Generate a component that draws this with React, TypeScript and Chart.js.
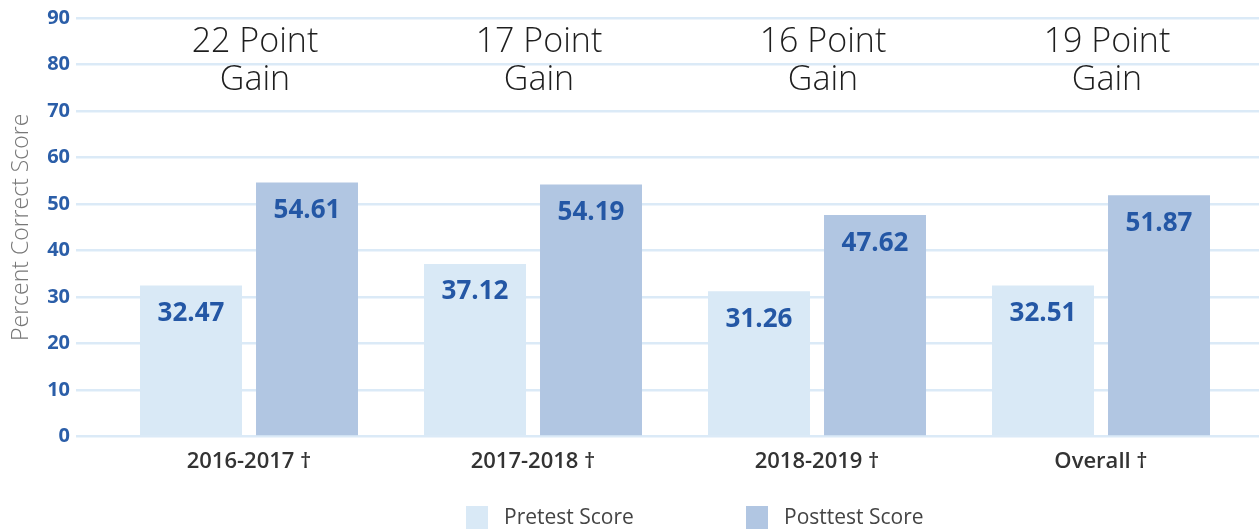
import React, { useEffect, useRef } from "react";
import { Chart, registerables } from "chart.js";

Chart.register(...registerables);

const categories = ["2016-2017 †", "2017-2018 †", "2018-2019 †", "Overall †"];
const pretestScores = [32.47, 37.12, 31.26, 32.51];
const posttestScores = [54.61, 54.19, 47.62, 51.87];
const gainLines = [
  ["22 Point", "Gain"],
  ["17 Point", "Gain"],
  ["16 Point", "Gain"],
  ["19 Point", "Gain"],
];
const seriesNames = ["Pretest Score", "Posttest Score"];
const yMin = 0;
const yMax = 90;
const yStep = 10;
const yTitle = "Percent Correct Score";

const FONT = '"Open Sans", "Noto Sans", sans-serif';
const PRE_COLOR = "#d9e9f6";
const POST_COLOR = "#b1c6e2";
const GRID_COLOR = "#dbeaf7";
const BLUE_TEXT = "#2457a5";

const valueLabelPlugin = {
  id: "valueLabels",
  afterDatasetsDraw(chart: any) {
    const ctx = chart.ctx;
    ctx.save();
    ctx.font = `bold 26px ${FONT}`;
    ctx.fillStyle = BLUE_TEXT;
    ctx.textAlign = "center";
    ctx.textBaseline = "middle";
    chart.data.datasets.forEach((ds: any, di: number) => {
      const meta = chart.getDatasetMeta(di);
      meta.data.forEach((el: any, i: number) => {
        const v = ds.data[i] as number;
        ctx.fillText(v.toFixed(2), el.x, el.y + 28);
      });
    });
    ctx.restore();
  },
};

const gainPlugin = {
  id: "gainLabels",
  afterDraw(chart: any) {
    const ctx = chart.ctx;
    const xs = chart.scales.x;
    ctx.save();
    ctx.font = `300 34px ${FONT}`;
    ctx.fillStyle = "#1e1e1e";
    ctx.textAlign = "center";
    ctx.textBaseline = "middle";
    gainLines.forEach((lines, i) => {
      const x = xs.getPixelForValue(i) + 6;
      lines.forEach((t, li) => ctx.fillText(t, x, 42 + li * 38));
    });
    ctx.restore();
  },
};

const legendPlugin = {
  id: "customLegend",
  afterDraw(chart: any) {
    const ctx = chart.ctx;
    const starts = [466, 746];
    ctx.save();
    ctx.font = `21px ${FONT}`;
    ctx.textBaseline = "middle";
    ctx.textAlign = "left";
    chart.data.datasets.forEach((ds: any, i: number) => {
      const x = starts[i];
      ctx.fillStyle = ds.backgroundColor;
      ctx.fillRect(x, 506, 22, 23);
      ctx.fillStyle = "#444444";
      ctx.fillText(ds.label, x + 38, 518);
    });
    ctx.restore();
  },
};

export default function App() {
  const ref = useRef<HTMLCanvasElement | null>(null);

  useEffect(() => {
    document.body.style.margin = "0";
    if (!ref.current) return;
    const chart = new Chart(ref.current, {
      type: "bar",
      data: {
        labels: categories,
        datasets: [
          {
            label: seriesNames[0],
            data: pretestScores,
            backgroundColor: PRE_COLOR,
            categoryPercentage: 0.817,
            barPercentage: 0.879,
          },
          {
            label: seriesNames[1],
            data: posttestScores,
            backgroundColor: POST_COLOR,
            categoryPercentage: 0.817,
            barPercentage: 0.879,
          },
        ],
      },
      options: {
        animation: false,
        responsive: false,
        layout: { padding: { top: 17, bottom: 43, left: 0, right: 0 } },
        plugins: {
          legend: { display: false },
          tooltip: { enabled: false },
        },
        scales: {
          x: {
            grid: { display: false, drawTicks: false },
            border: { display: false },
            ticks: {
              color: "#333333",
              font: { family: FONT, size: 22, weight: "600" },
              padding: 12,
            },
          },
          y: {
            min: yMin,
            max: yMax,
            ticks: {
              stepSize: yStep,
              color: "#2b5ea8",
              font: { family: FONT, size: 20, weight: "bold" },
              padding: 6,
            },
            grid: { color: GRID_COLOR, lineWidth: 2.5, drawTicks: true, tickLength: 31 },
            border: { display: false },
            title: {
              display: true,
              text: yTitle,
              color: "#777777",
              font: { family: FONT, size: 23, weight: "300" },
              padding: { top: 8, bottom: 0 },
            },
            afterFit(s: any) {
              s.width = 107;
            },
          },
          y2: {
            position: "right",
            min: yMin,
            max: yMax,
            ticks: { display: false, stepSize: yStep },
            grid: { color: GRID_COLOR, lineWidth: 2.5, drawOnChartArea: false, drawTicks: true, tickLength: 16 },
            border: { display: false },
            afterFit(s: any) {
              s.width = 16;
            },
          },
        },
      } as any,
      plugins: [valueLabelPlugin, gainPlugin, legendPlugin],
    });
    return () => chart.destroy();
  }, []);

  return (
    <div style={{ width: 1259, height: 530 }}>
      <canvas ref={ref} width={1259} height={530} />
    </div>
  );
}
